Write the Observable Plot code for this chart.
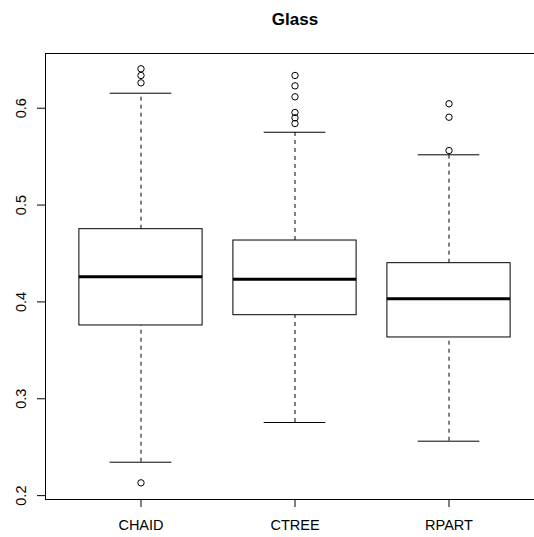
<!DOCTYPE html>
<html>
<head>
<meta charset="utf-8">
<script src="https://cdn.jsdelivr.net/npm/d3@7"></script>
<script src="https://cdn.jsdelivr.net/npm/@observablehq/plot@0.6"></script>
<style>
  html, body { margin: 0; padding: 0; background: #fff; overflow: hidden; }
  #wrap { width: 534px; height: 537px; overflow: hidden; }
  #wrap svg { max-width: none !important; width: 544px !important; height: 537px !important; }
</style>
</head>
<body>
<div id="wrap"></div>
<script>
const title = "Glass";
const categories = ["CHAID", "CTREE", "RPART"];
const lowerWhisker = [0.2345, 0.2755, 0.2562];
const q1 = [0.3757, 0.3863, 0.3633];
const median = [0.4259, 0.4235, 0.4032];
const q3 = [0.4751, 0.4634, 0.4400];
const upperWhisker = [0.6155, 0.5752, 0.5519];
const outliersCHAID = [0.6407, 0.6338, 0.6262, 0.2132];
const outliersCTREE = [0.6338, 0.6231, 0.6118, 0.5956, 0.5901, 0.5842];
const outliersRPART = [0.6046, 0.5907, 0.5563];
const yTicks = [0.2, 0.3, 0.4, 0.5, 0.6];
const yTickLabels = ["0.2", "0.3", "0.4", "0.5", "0.6"];

const boxes = categories.map((c, i) => ({
  pos: i + 1, name: c, lo: lowerWhisker[i], q1: q1[i], med: median[i], q3: q3[i], hi: upperWhisker[i]
}));
const outliers = [
  ...outliersCHAID.map(v => ({pos: 1, v})),
  ...outliersCTREE.map(v => ({pos: 2, v})),
  ...outliersRPART.map(v => ({pos: 3, v}))
];
const yLabels = yTicks.map((t, i) => ({t, label: yTickLabels[i]}));

const font = "'Liberation Sans', Arial, Helvetica, sans-serif";

const chart = Plot.plot({
  width: 544,
  height: 537,
  marginLeft: 45,
  marginRight: 0,
  marginTop: 53,
  marginBottom: 38,
  style: {fontFamily: font, fontSize: "14.5px", background: "#fff", color: "#000", maxWidth: "none"},
  x: {domain: [0.38, 3.62], axis: null},
  y: {domain: [0.196, 0.6565], axis: null},
  marks: [
    // whiskers (dashed)
    Plot.ruleX(boxes, {x: "pos", y1: "q3", y2: "hi", stroke: "#000", strokeWidth: 1, strokeDasharray: "4,4"}),
    Plot.ruleX(boxes, {x: "pos", y1: "lo", y2: "q1", stroke: "#000", strokeWidth: 1, strokeDasharray: "4,4"}),
    // whisker caps
    Plot.ruleY(boxes, {y: "hi", x1: d => d.pos - 0.2, x2: d => d.pos + 0.2, stroke: "#000", strokeWidth: 1}),
    Plot.ruleY(boxes, {y: "lo", x1: d => d.pos - 0.2, x2: d => d.pos + 0.2, stroke: "#000", strokeWidth: 1}),
    // boxes
    Plot.rect(boxes, {x1: d => d.pos - 0.4, x2: d => d.pos + 0.4, y1: "q1", y2: "q3", fill: "#fff", stroke: "#000", strokeWidth: 1}),
    // medians
    Plot.ruleY(boxes, {y: "med", x1: d => d.pos - 0.4, x2: d => d.pos + 0.4, stroke: "#000", strokeWidth: 3}),
    // outliers
    Plot.dot(outliers, {x: "pos", y: "v", r: 3.2, stroke: "#000", fill: "none", strokeWidth: 1}),
    // frame
    Plot.frame({stroke: "#000", strokeWidth: 1}),
    // y axis ticks and rotated labels
    Plot.axisY({ticks: yTicks, tickSize: 8, tickFormat: () => "", label: null, stroke: "#000"}),
    Plot.text(yLabels, {y: "t", text: "label", frameAnchor: "left", dx: -24, rotate: -90, textAnchor: "middle", lineAnchor: "middle", fontSize: 14.5, fill: "#000"}),
    // x axis
    Plot.axisX({ticks: [1, 2, 3], tickSize: 8, tickPadding: 12, tickFormat: d => categories[d - 1], label: null, fontSize: 14.5, stroke: "#000", fill: "#000"}),
    // title
    Plot.text([title], {x: () => 2, frameAnchor: "top", lineAnchor: "bottom", dy: -29, fontWeight: "bold", fontSize: 17, fill: "#000"})
  ]
});
document.getElementById("wrap").appendChild(chart);
</script>
</body>
</html>
